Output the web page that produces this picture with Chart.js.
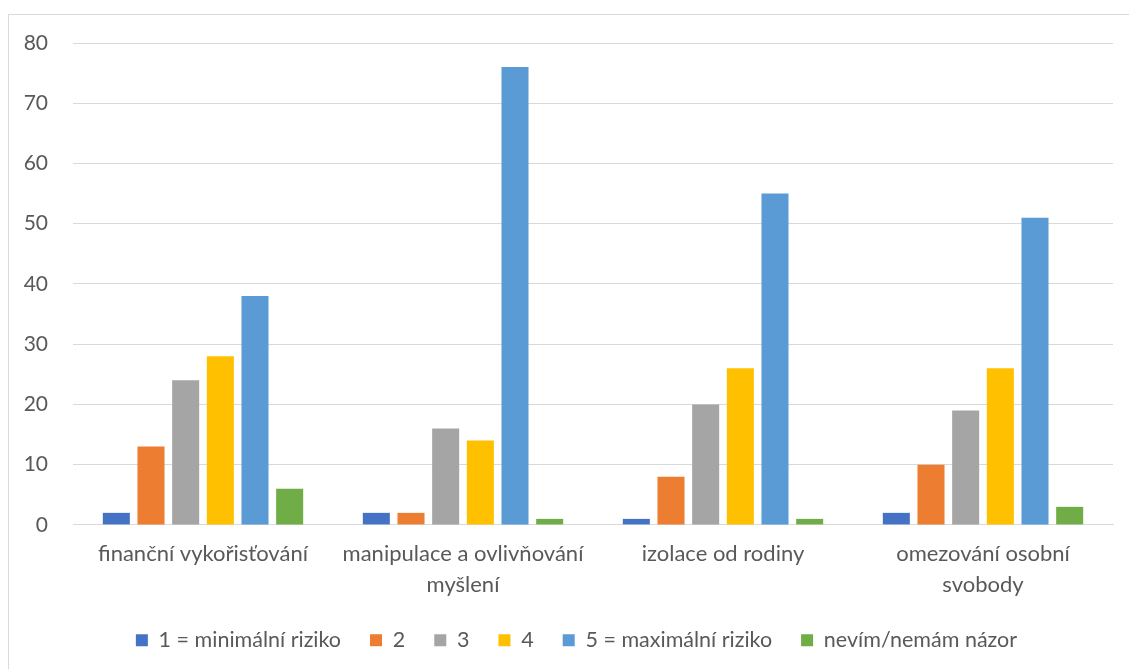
<!DOCTYPE html>
<html>
<head>
<meta charset="utf-8">
<script src="https://cdn.jsdelivr.net/npm/chart.js@4"></script>
<style>
  body { margin: 0; background: #fff; }
  #frame { position: absolute; left: 8px; top: 14px; width: 1125px; height: 660px; border: 1px solid #d9d9d9; box-sizing: border-box; }
  #wrap { position: absolute; left: 0; top: 0; width: 1129px; height: 669px; }
</style>
</head>
<body>
<div id="frame"></div>
<div id="wrap"><canvas id="myChart"></canvas></div>
<script>
'use strict';

// data
let categories = [
    'finanční vykořisťování',
    ['manipulace a ovlivňování', 'myšlení'],
    'izolace od rodiny',
    ['omezování osobní', 'svobody']
];
let seriesNames = ['1 = minimální riziko', '2', '3', '4', '5 = maximální riziko', 'nevím/nemám názor'];
let seriesColors = ['#4472c4', '#ed7d31', '#a5a5a5', '#ffc000', '#5b9bd5', '#70ad47'];
let risk1 = [2, 2, 1, 2];
let risk2 = [13, 2, 8, 10];
let risk3 = [24, 16, 20, 19];
let risk4 = [28, 14, 26, 26];
let risk5 = [38, 76, 55, 51];
let noOpinion = [6, 1, 1, 3];
let yTicks = [0, 10, 20, 30, 40, 50, 60, 70, 80];

let allSeries = [risk1, risk2, risk3, risk4, risk5, noOpinion];
let datasets = [];
for (let i = 0; i < allSeries.length; i++) {
    datasets.push({
        label: seriesNames[i],
        data: allSeries[i],
        backgroundColor: seriesColors[i],
        borderWidth: 0,
        categoryPercentage: 0.8,
        barPercentage: 0.78
    });
}

let fontFamily = 'Lato, "Open Sans", sans-serif';

// legend sits a bit closer to the axis labels (and a bit more right) than chart.js puts it
let legendShift = {
    id: 'legendShift',
    afterUpdate: function (chart) {
        chart.legend.top -= 14;
        chart.legend.bottom -= 14;
        chart.legend.left += 16;
        chart.legend.right += 16;
    }
};

let chartObject = {
    type: 'bar',
    data: {
        labels: categories,
        datasets: datasets
    },
    options: {
        responsive: true,
        maintainAspectRatio: false,
        animation: false,
        layout: {
            padding: { left: 8, right: 16, top: 43, bottom: -6 }
        },
        plugins: {
            legend: {
                position: 'bottom',
                labels: {
                    boxWidth: 12,
                    boxHeight: 12,
                    padding: 29,
                    color: '#595959',
                    font: { family: fontFamily, size: 21.5 }
                }
            },
            tooltip: { enabled: false }
        },
        scales: {
            x: {
                grid: { display: false, drawTicks: false },
                border: { display: true, color: '#d9d9d9' },
                ticks: {
                    color: '#595959',
                    font: { family: fontFamily, size: 22, lineHeight: 1.4 },
                    maxRotation: 0,
                    autoSkip: false,
                    padding: 14
                }
            },
            y: {
                min: 0,
                max: 80,
                afterBuildTicks: function (axis) {
                    axis.ticks = yTicks.map(function (v) { return { value: v }; });
                },
                afterFit: function (axis) {
                    axis.width = 65;
                },
                grid: { color: '#d9d9d9', drawTicks: false },
                border: { display: false },
                ticks: {
                    color: '#595959',
                    font: { family: fontFamily, size: 21 },
                    padding: 25
                }
            }
        }
    },
    plugins: [legendShift]
};

let ctx = document.getElementById('myChart').getContext('2d');
let myChart = new Chart(ctx, chartObject);
</script>
</body>
</html>
